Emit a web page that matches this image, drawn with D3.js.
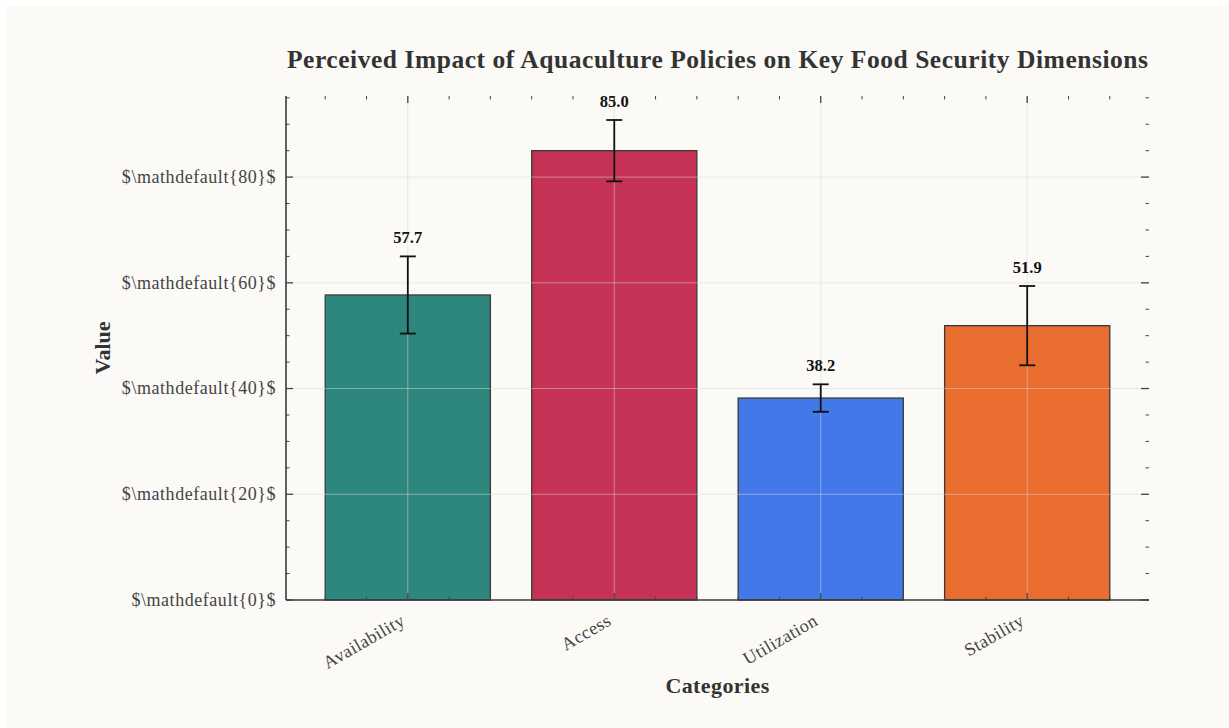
<!DOCTYPE html>
<html>
<head>
<meta charset="utf-8">
<script src="https://cdn.jsdelivr.net/npm/d3@7"></script>
<style>
  html, body { margin: 0; padding: 0; background: #ffffff; }
  svg { display: block; }
  text { font-family: "Liberation Serif", "DejaVu Serif", serif; }
</style>
</head>
<body>
<svg id="chart" width="1229" height="728"></svg>
<script>
const categories = ["Availability", "Access", "Utilization", "Stability"];
const values = [57.7, 85.0, 38.2, 51.9];
const errors = [7.3, 5.8, 2.6, 7.5];
const colors = ["#2e877c", "#c53255", "#4378e8", "#e96d2e"];
const yTicks = [0, 20, 40, 60, 80];
const yTickLabels = yTicks.map(v => "$\\mathdefault{" + v + "}$");
const title = "Perceived Impact of Aquaculture Policies on Key Food Security Dimensions";

const W = 1229, H = 728;
const m = { left: 286, right: 1149, top: 96, bottom: 600 };
const svg = d3.select("#chart");

svg.append("rect").attr("x", 7).attr("y", 6).attr("width", W - 7).attr("height", H - 6)
  .attr("fill", "#fbfaf7");

const yMax = d3.max(values.map((v, i) => v + errors[i])) * 1.05;
const y = d3.scaleLinear().domain([0, yMax]).range([m.bottom, m.top]);
const x = d3.scaleLinear().domain([-0.59, 3.59]).range([m.left, m.right]);
const barW = x(0.8) - x(0);

const g = svg.append("g");

// bars
g.selectAll("rect.bar").data(values).join("rect")
  .attr("class", "bar")
  .attr("x", (d, i) => x(i) - barW / 2)
  .attr("y", d => y(d))
  .attr("width", barW)
  .attr("height", d => y(0) - y(d))
  .attr("fill", (d, i) => colors[i])
  .attr("stroke", "#3a3a3a")
  .attr("stroke-width", 1.3);

// grid (above bars)
const grid = g.append("g");
grid.selectAll("line.h").data(yTicks.slice(1)).join("line")
  .attr("x1", m.left).attr("x2", m.right)
  .attr("y1", d => y(d)).attr("y2", d => y(d))
  .attr("stroke", "#d8d8d8").attr("stroke-opacity", 0.5).attr("stroke-width", 1);
grid.selectAll("line.v").data(d3.range(categories.length)).join("line")
  .attr("y1", m.top).attr("y2", m.bottom)
  .attr("x1", d => x(d)).attr("x2", d => x(d))
  .attr("stroke", "#d8d8d8").attr("stroke-opacity", 0.5).attr("stroke-width", 1);

// error bars
const eb = g.append("g").attr("stroke", "#111").attr("stroke-width", 1.8);
values.forEach((v, i) => {
  const cx = x(i), t = y(v + errors[i]), b = y(v - errors[i]);
  eb.append("line").attr("x1", cx).attr("x2", cx).attr("y1", t).attr("y2", b);
  eb.append("line").attr("x1", cx - 8).attr("x2", cx + 8).attr("y1", t).attr("y2", t);
  eb.append("line").attr("x1", cx - 8).attr("x2", cx + 8).attr("y1", b).attr("y2", b);
});

// value labels
g.selectAll("text.val").data(values).join("text")
  .attr("class", "val")
  .attr("x", (d, i) => x(i))
  .attr("y", (d, i) => y(d + errors[i]) - 13)
  .attr("text-anchor", "middle")
  .attr("font-weight", "bold")
  .attr("font-size", 16.5)
  .attr("fill", "#111")
  .text(d => d.toFixed(1));

// ticks
const tickColor = "#444";
const ticksG = g.append("g").attr("stroke", tickColor);
const yMinor = d3.range(0, yMax, 5).filter(v => v % 20 !== 0);
yTicks.forEach(v => {
  ticksG.append("line").attr("x1", m.left).attr("x2", m.left + 7).attr("y1", y(v)).attr("y2", y(v)).attr("stroke-width", 1.3);
  ticksG.append("line").attr("x1", m.right - 8).attr("x2", m.right).attr("y1", y(v)).attr("y2", y(v)).attr("stroke-width", 1.3);
});
yMinor.forEach(v => {
  ticksG.append("line").attr("x1", m.left).attr("x2", m.left + 3.5).attr("y1", y(v)).attr("y2", y(v)).attr("stroke-width", 1);
  ticksG.append("line").attr("x1", m.right - 3.5).attr("x2", m.right).attr("y1", y(v)).attr("y2", y(v)).attr("stroke-width", 1);
});
const xMajor = d3.range(categories.length);
const xMinor = d3.range(-0.4, 3.59, 0.2).map(v => Math.round(v * 10) / 10).filter(v => Math.abs(v - Math.round(v)) > 1e-6);
xMajor.forEach(v => {
  ticksG.append("line").attr("x1", x(v)).attr("x2", x(v)).attr("y1", m.bottom).attr("y2", m.bottom - 7).attr("stroke-width", 1.3);
  ticksG.append("line").attr("x1", x(v)).attr("x2", x(v)).attr("y1", m.top).attr("y2", m.top + 7).attr("stroke-width", 1.3);
});
xMinor.forEach(v => {
  ticksG.append("line").attr("x1", x(v)).attr("x2", x(v)).attr("y1", m.bottom).attr("y2", m.bottom - 3.5).attr("stroke-width", 1);
  ticksG.append("line").attr("x1", x(v)).attr("x2", x(v)).attr("y1", m.top).attr("y2", m.top + 3.5).attr("stroke-width", 1);
});

// spines
g.append("line").attr("x1", m.left).attr("x2", m.left).attr("y1", m.top).attr("y2", m.bottom)
  .attr("stroke", "#3a3a3a").attr("stroke-width", 1.6);
g.append("line").attr("x1", m.left).attr("x2", m.right).attr("y1", m.bottom).attr("y2", m.bottom)
  .attr("stroke", "#3a3a3a").attr("stroke-width", 1.6);

// y tick labels
g.selectAll("text.ytl").data(yTicks).join("text")
  .attr("class", "ytl")
  .attr("x", m.left - 10)
  .attr("y", d => y(d))
  .attr("dy", "0.33em")
  .attr("text-anchor", "end")
  .attr("font-size", 18)
  .attr("letter-spacing", 0.55)
  .attr("fill", "#444")
  .text((d, i) => yTickLabels[i]);

// x tick labels
g.selectAll("text.xtl").data(categories).join("text")
  .attr("class", "xtl")
  .attr("transform", (d, i) => `translate(${x(i) - 8},${m.bottom + 13}) rotate(-30)`)
  .attr("text-anchor", "end")
  .attr("dy", "0.7em")
  .attr("font-size", 18)
  .attr("letter-spacing", 0.5)
  .attr("fill", "#444")
  .text(d => d);

// axis titles
svg.append("text")
  .attr("x", (m.left + m.right) / 2).attr("y", 693)
  .attr("text-anchor", "middle").attr("font-weight", "bold").attr("font-size", 22)
  .attr("letter-spacing", 0.4)
  .attr("fill", "#333").text("Categories");
svg.append("text")
  .attr("transform", `translate(110,${(m.top + m.bottom) / 2}) rotate(-90)`)
  .attr("text-anchor", "middle").attr("font-weight", "bold").attr("font-size", 22)
  .attr("fill", "#333").text("Value");

// title
svg.append("text")
  .attr("x", (m.left + m.right) / 2).attr("y", 68)
  .attr("text-anchor", "middle").attr("font-weight", "bold").attr("font-size", 25.5)
  .attr("textLength", 861).attr("lengthAdjust", "spacing")
  .attr("fill", "#333").text(title);
</script>
</body>
</html>
